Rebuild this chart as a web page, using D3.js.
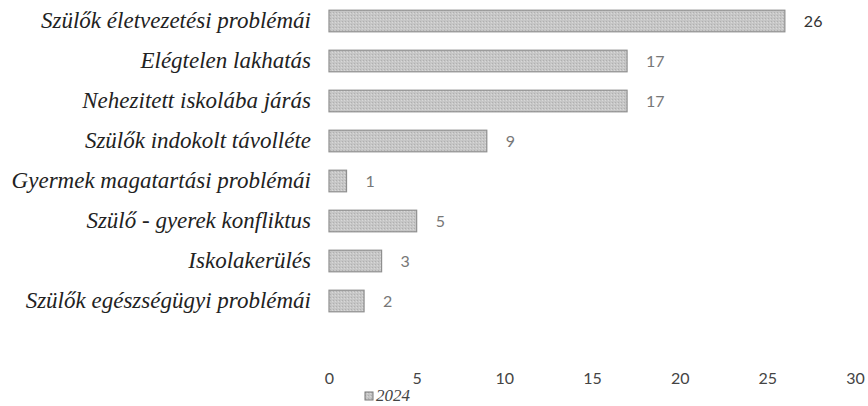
<!DOCTYPE html>
<html><head><meta charset="utf-8">
<script src="https://cdn.jsdelivr.net/npm/d3@7/dist/d3.min.js"></script>
<style>body{margin:0;background:#fff;}svg{display:block;}</style>
</head><body>
<svg id="c" width="868" height="406"></svg>
<script>
const categories = ["Szülők életvezetési problémái","Elégtelen lakhatás","Nehezitett iskolába járás","Szülők indokolt távolléte","Gyermek magatartási problémái","Szülő - gyerek konfliktus","Iskolakerülés","Szülők egészségügyi problémái"];
const values2024 = [26,17,17,9,1,5,3,2];
const xTicks = [0,5,10,15,20,25,30];
const seriesName = "2024";

const svg = d3.select("#c");
const defs = svg.append("defs");
const pat = defs.append("pattern").attr("id","p").attr("width",3).attr("height",3).attr("patternUnits","userSpaceOnUse");
pat.append("rect").attr("width",3).attr("height",3).attr("fill","#c6c6c6");
pat.append("rect").attr("width",1).attr("height",1).attr("fill","#b0b0b0");
pat.append("rect").attr("x",2).attr("y",1).attr("width",1).attr("height",1).attr("fill","#d8d8d8");

const x = d3.scaleLinear().domain([0,30]).range([329,855]);
const y = d3.scaleBand().domain(categories).range([1,321]).paddingInner(0.46).paddingOuter(0.23);

const g = svg.append("g");
g.selectAll("rect.bar").data(categories).join("rect").attr("class","bar")
  .attr("x",x(0)).attr("y",d=>y(d)).attr("height",y.bandwidth())
  .attr("width",(d,i)=>x(values2024[i])-x(0))
  .attr("fill","url(#p)").attr("stroke","#8f8f8f").attr("stroke-width",1.2);

g.selectAll("text.val").data(categories).join("text").attr("class","val")
  .attr("x",(d,i)=>x(values2024[i])+19).attr("y",d=>y(d)+y.bandwidth()/2)
  .attr("dy","0.35em").attr("font-family","Lato, sans-serif").attr("font-size",16)
  .attr("fill",(d,i)=>i===0?"#333":"#777")
  .text((d,i)=>values2024[i]);

const yAxis = d3.axisLeft(y).tickSize(0).tickPadding(18);
const ya = svg.append("g").attr("transform",`translate(${x(0)},0)`).call(yAxis);
ya.select(".domain").remove();
ya.selectAll("text").attr("font-family","'Liberation Serif', 'Times New Roman', serif")
  .attr("font-style","italic").attr("font-size",23).attr("fill","#222");

const xAxis = d3.axisBottom(x).tickValues(xTicks).tickSize(0).tickPadding(0);
const xa = svg.append("g").attr("transform","translate(0,373)").call(xAxis);
xa.select(".domain").remove();
xa.selectAll("text").attr("font-family","Lato, sans-serif").attr("font-size",16).attr("fill","#444");

const leg = svg.append("g").attr("transform","translate(365,392)");
leg.append("rect").attr("width",8).attr("height",8).attr("fill","url(#p)").attr("stroke","#777");
leg.append("text").attr("x",11).attr("y",9).attr("font-family","'Liberation Serif', serif")
  .attr("font-style","italic").attr("font-size",17).attr("fill","#444").text(seriesName);
</script>
</body></html>
